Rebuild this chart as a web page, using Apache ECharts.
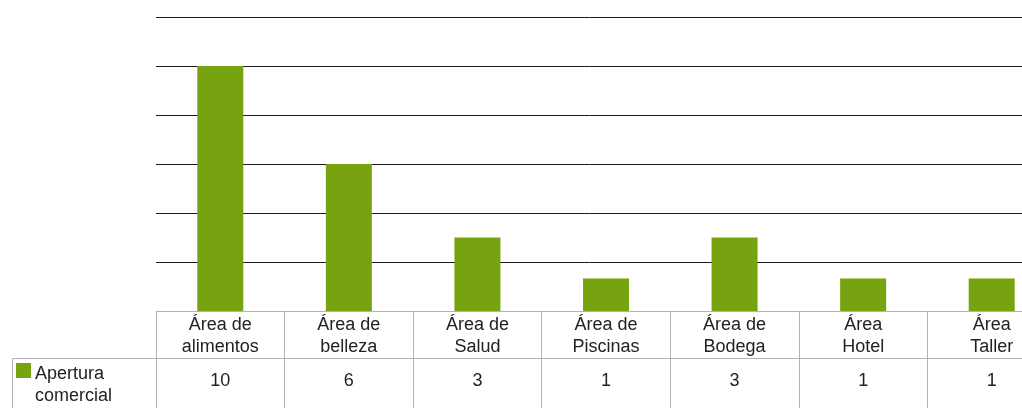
<!DOCTYPE html>
<html>
<head>
<meta charset="utf-8">
<style type="text/css">
html, body { margin: 0; padding: 0; background: #fff; }
#chart { width: 1022px; height: 408px; }
</style>
<script type="text/javascript" src="https://cdn.jsdelivr.net/npm/echarts@6/dist/echarts.min.js"></script>
</head>
<body>
<div id="chart"></div>
<script type="text/javascript">
var categories = ['Área de\nalimentos', 'Área de\nbelleza', 'Área de\nSalud', 'Área de\nPiscinas',
	'Área de\nBodega', 'Área\nHotel', 'Área\nTaller'];
// values printed in the table
var tableValues = ['10', '6', '3', '1', '3', '1', '1'];
// bar heights as drawn in the picture (the "1" bars are drawn a bit taller)
var barHeights = [10, 6, 3, 1.33, 3, 1.33, 1.33];
var seriesName = 'Apertura comercial';

var chart = echarts.init(document.getElementById('chart'));
var font = '"Liberation Sans", Helvetica, Arial, sans-serif';
var lineCol = '#b4b4b4';

chart.setOption({
	animation: false,
	// plot runs past the right edge, table sits under the plot
	grid: { left: 156, width: 900, top: 17, bottom: 97, outerBoundsMode: 'none', containLabel: false },
	xAxis: [{
		type: 'category',
		data: categories,
		axisLine: { lineStyle: { color: lineCol, width: 1 } },
		axisTick: { show: true, length: 97, lineStyle: { color: lineCol } },
		axisLabel: {
			margin: 3, interval: 0, fontFamily: font, fontSize: 18,
			lineHeight: 22, color: '#222'
		}
	}, {
		type: 'category',
		position: 'bottom',
		offset: 53,
		data: tableValues,
		axisLine: { show: false },
		axisTick: { show: false },
		axisLabel: { margin: 8, interval: 0, fontFamily: font, fontSize: 18, color: '#222' }
	}],
	yAxis: {
		type: 'value',
		min: 0, max: 12, interval: 2,
		axisLabel: { show: false },
		axisLine: { show: false },
		axisTick: { show: false },
		splitLine: { lineStyle: { color: '#1a1a1a', width: 1 } }
	},
	series: [{
		name: seriesName,
		type: 'bar',
		data: barHeights,
		barWidth: 46,
		itemStyle: { color: '#78a311' }
	}],
	graphic: [
		// value row top line and row header cell
		{ type: 'line', shape: { x1: 12, y1: 358.5, x2: 1022, y2: 358.5 }, style: { stroke: lineCol, lineWidth: 1 } },
		{ type: 'line', shape: { x1: 12.5, y1: 358, x2: 12.5, y2: 408 }, style: { stroke: lineCol, lineWidth: 1 } },
		{ type: 'rect', shape: { x: 16, y: 363, width: 15, height: 15 }, style: { fill: '#78a311' } },
		{ type: 'text', x: 35, y: 363, style: {
			text: 'Apertura\ncomercial', font: '18px ' + font, fill: '#222', lineHeight: 22
		} }
	]
});
</script>
</body>
</html>
